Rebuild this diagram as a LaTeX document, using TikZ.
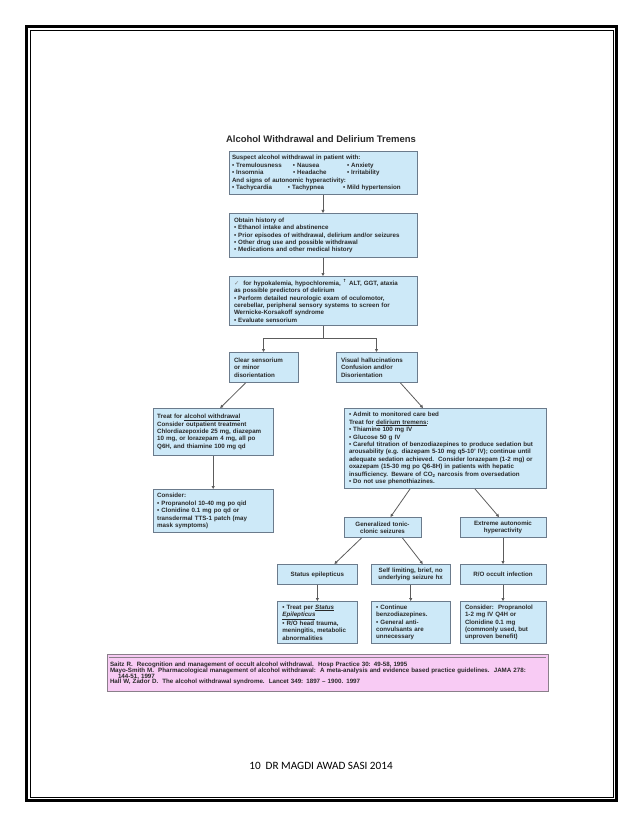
\documentclass[tikz,border=0pt]{standalone}
\usepackage{fontspec}
\setmainfont{Liberation Sans}
\newfontfamily\symfont{DejaVu Sans}
\newfontfamily\pagefont{Carlito}
\usepackage{xcolor}
\usetikzlibrary{arrows.meta, positioning, calc}
\definecolor{boxfill}{HTML}{CDE9F8}
\definecolor{boxline}{HTML}{6B7B8C}
\definecolor{linegray}{HTML}{5C5C5C}
\definecolor{reffill}{HTML}{F8CBF4}
\definecolor{refline}{HTML}{8A7F8A}
\definecolor{inkgray}{HTML}{2A2A2A}
\newcommand{\dotitem}{\textbullet\ }
\newcommand{\tightlines}{\lineskiplimit=-5pt\relax}
\tikzset{
  infobox/.style={rectangle, draw=boxline, fill=boxfill, line width=0.8pt, align=left, inner xsep=5pt, inner ysep=1.5pt, text=inkgray, font=\bfseries\fontsize{6.2}{7.4}\selectfont},
  choicebox/.style={infobox, align=center, inner xsep=2pt},
  refbox/.style={rectangle, draw=refline, fill=reffill, line width=0.8pt, align=left, inner xsep=3pt, text=inkgray, font=\bfseries\fontsize{6.2}{5.6}\selectfont},
  titletext/.style={font=\bfseries\fontsize{9.5}{11}\selectfont, text=inkgray, inner sep=0pt},
  arrowline/.style={-{Triangle[length=3pt, width=3pt]}, draw=linegray, line width=0.8pt},
}

\begin{document}
\begin{tikzpicture}[x=1pt, y=-1pt]
\useasboundingbox (0,0) rectangle (638,826);
\draw[line width=2.8pt] (26.5,26.5) rectangle (616.5,800.5);
\draw[line width=0.8pt] (30,30) rectangle (613,797);

\node[infobox, inner xsep=3pt, text width=182pt, minimum height=43.2pt, anchor=north] (suspect) at (323,151) {Suspect alcohol withdrawal in patient with:\\ \makebox[61pt][l]{\dotitem Tremulousness}\makebox[54pt][l]{\dotitem Nausea}\dotitem Anxiety\\ \makebox[61pt][l]{\dotitem Insomnia}\makebox[54pt][l]{\dotitem Headache}\dotitem Irritability\\ And signs of autonomic hyperactivity:\\ \makebox[56pt][l]{\dotitem Tachycardia}\makebox[55pt][l]{\dotitem Tachypnea}\dotitem Mild hypertension};
\node[titletext, above=8pt of suspect, xshift=-2pt] (title) {Alcohol Withdrawal and Delirium Tremens};
\node[infobox, text width=178pt, minimum height=44.2pt, below=18pt of suspect] (history) {Obtain history of\\ \dotitem Ethanol intake and abstinence\\ \dotitem Prior episodes of withdrawal, delirium and/or seizures\\ \dotitem Other drug use and possible withdrawal\\ \dotitem Medications and other medical history};
\node[infobox, text width=178pt, minimum height=49.2pt, below=18pt of history] (workup) {{\symfont\color{gray}✓}\ \ for hypokalemia, hypochloremia, {\symfont\textsuperscript{↑}} ALT, GGT, ataxia\\ as possible predictors of delirium\\ \dotitem Perform detailed neurologic exam of oculomotor,\\ cerebellar, peripheral sensory systems to screen for\\ Wernicke-Korsakoff syndrome\\ \dotitem Evaluate sensorium};
\coordinate[below=12pt of workup] (fork);
\node[infobox, text width=59pt, minimum height=30.2pt, below=26pt of workup.south west, anchor=north west] (clear) {Clear sensorium\\ or minor\\ disorientation};
\node[infobox, text width=71pt, minimum height=30.2pt, below=26pt of workup.south east, anchor=north east] (visual) {Visual hallucinations\\ Confusion and/or\\ Disorientation};
\node[infobox, text width=192pt, minimum height=80.2pt, anchor=north west] (admit) at ([xshift=8pt, yshift=-25pt]visual.south west) {\dotitem Admit to monitored care bed\\ Treat for \underline{delirium tremens}:\\ \dotitem Thiamine 100 mg IV\\ \dotitem Glucose 50 g IV\\ \dotitem Careful titration of benzodiazepines to produce sedation but\\ arousability (e.g. diazepam 5-10 mg q5-10' IV); continue until\\ adequate sedation achieved.\ \ Consider lorazepam (1-2 mg) or\\ oxazepam (15-30 mg po Q6-8H) in patients with hepatic\\ insufficiency. Beware of CO\textsubscript{2} narcosis from oversedation\\ \dotitem Do not use phenothiazines.};
\node[infobox, inner xsep=4pt, text width=112pt, minimum height=47.2pt, left=70pt of admit.north west, anchor=north east] (outpt) {Treat for \underline{alcohol withdrawal}\\ Consider outpatient treatment\\ Chlordiazepoxide 25 mg, diazepam\\ 10 mg, or lorazepam 4 mg, all po\\ Q6H, and thiamine 100 mg qd};
\node[infobox, inner xsep=4pt, text width=112pt, minimum height=43.2pt, below=33pt of outpt] (adjunct) {Consider:\\ \dotitem Propranolol 10-40 mg po qid\\ \dotitem Clonidine 0.1 mg po qd or\\ transdermal TTS-1 patch (may\\ mask symptoms)};
\node[choicebox, text width=73pt, minimum height=20.2pt, below=28pt of admit.south west, anchor=north west] (seizure) {Generalized tonic-\\ clonic seizures};
\node[choicebox, text width=82pt, minimum height=20.2pt, below=28pt of admit.south east, anchor=north east] (autonomic) {Extreme autonomic\\ hyperactivity};
\node[choicebox, text width=82pt, minimum height=20.2pt, below=26pt of autonomic] (infect) {R/O occult infection};
\node[choicebox, text width=75pt, minimum height=20.2pt, left=9pt of infect] (selflim) {Self limiting, brief, no\\ underlying seizure hx};
\node[choicebox, text width=76pt, minimum height=20.2pt, left=13pt of selflim] (status) {Status epilepticus};
\node[infobox, text width=76pt, minimum height=42.2pt, below=16pt of infect] (autotx) {Consider:\ \ Propranolol\\ 1-2 mg IV Q4H or\\ Clonidine 0.1 mg\\ (commonly used, but\\ unproven benefit)};
\node[infobox, text width=69pt, minimum height=42.2pt, below=16pt of selflim] (benzo) {\dotitem Continue\\ benzodiazepines.\\ \dotitem General anti-\\ convulsants are\\ unnecessary};
\node[infobox, text width=70pt, minimum height=42.2pt, below=16pt of status] (statustx) {\dotitem Treat per \underline{\textit{Status}}\\ \underline{\textit{Epilepticus}}\\ \dotitem R/O head trauma,\\ meningitis, metabolic\\ abnormalities};
\node[refbox, text width=435pt, minimum height=37.2pt, anchor=north east] (refs) at ([xshift=2pt, yshift=-10pt]autotx.south east) {\tightlines\rule{0pt}{6pt}Saitz R.\ \ Recognition and management of occult alcohol withdrawal.\ \ Hosp Practice 30: 49-58, 1995\\ Mayo-Smith M.\ \ Pharmacological management of alcohol withdrawal:\ \ A meta-analysis and evidence based practice guidelines.\ \ JAMA 278:\\ \hspace*{8pt}144-51, 1997\\ Hall W, Zador D.\ \ The alcohol withdrawal syndrome.\ \ Lancet 349: 1897 -- 1900. 1997};
\node[font=\pagefont\fontsize{11.2}{13}\selectfont] (pagefoot) at (321,766) {10\ \ DR MAGDI AWAD SASI 2014};

\draw[refline, line width=0.6pt] ([xshift=2pt, yshift=-3.5pt]refs.north west) -- ([xshift=-2pt, yshift=-3.5pt]refs.north east);
\draw[arrowline] (suspect) -- (history);
\draw[arrowline] (history) -- (workup);
\draw[draw=linegray, line width=0.8pt] (workup) -- (fork);
\draw[arrowline] (fork) -| (clear);
\draw[arrowline] (fork) -| (visual);
\draw[arrowline] ([xshift=-18pt]clear.south) -- ([xshift=7pt]outpt.north);
\draw[arrowline] ([xshift=24pt]visual.south) -- ([xshift=-22pt]admit.north);
\draw[arrowline] (outpt) -- (adjunct);
\draw[arrowline] ([xshift=-35pt]admit.south) -- ([xshift=8pt]seizure.north);
\draw[arrowline] ([xshift=30pt]admit.south) -- ([xshift=-4pt]autonomic.north);
\draw[arrowline] ([xshift=-21pt]seizure.south) -- ([xshift=17pt]status.north);
\draw[arrowline] ([xshift=20pt]seizure.south) -- ([xshift=12pt]selflim.north);
\draw[arrowline] (autonomic) -- (infect);
\draw[arrowline] (status) -- (statustx);
\draw[arrowline] (selflim) -- (benzo);
\draw[arrowline] (infect) -- (autotx);
\end{tikzpicture}
\end{document}
